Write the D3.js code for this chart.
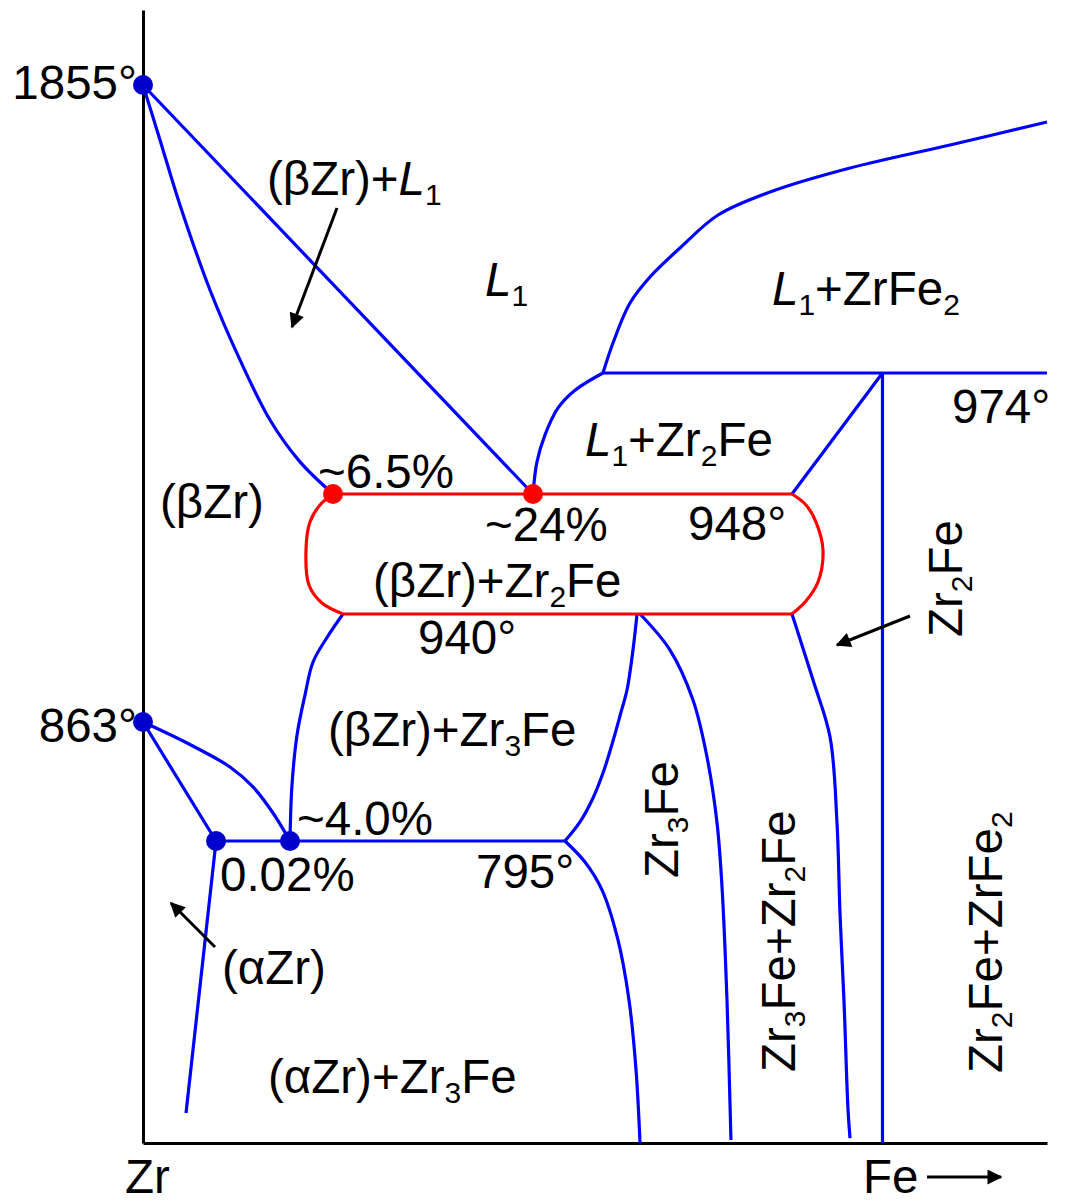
<!DOCTYPE html>
<html>
<head>
<meta charset="utf-8">
<script src="https://cdn.jsdelivr.net/npm/d3@7"></script>
<style>
  body { margin: 0; background: #fff; }
  svg text { font-family: "Liberation Sans", Arial, sans-serif; font-size: 47.5px; fill: #000; }
</style>
</head>
<body>
<script>
// Zr-Fe phase diagram, Zr rich side (schematic, not to scale)
// x = schematic composition (0 = Zr, 100 = right edge of frame)
// y = temperature in degC, the drawing stretches the isotherms so the scale is piecewise

const tempBreaks = [2085, 1855, 974, 948, 940, 863, 795, 600];

// blue phase boundaries
const liquidusBeta = [[0, 1855], [43.14, 948]];
const solidusBeta = [[0, 1855], [1.88, 1686.8], [4.09, 1488], [7.41, 1228], [10.73, 1014],
  [14.05, 963.9], [17.37, 954.9], [21.02, 948]];
const liquidusZr2Fe = [[43.14, 948], [43.58, 954.9], [44.47, 960.7], [45.91, 966.5],
  [47.79, 970.3], [50.88, 974]];
const liquidusZrFe2 = [[50.88, 974], [51.99, 1065.8], [53.87, 1188.1], [56.08, 1267.7],
  [59.4, 1356.4], [63.61, 1457.3], [69.36, 1527.7], [78.21, 1601.1], [89.27, 1671.5], [100, 1741.8]];
const peritectic974 = [[50.88, 974], [100, 974]];
const tieZr2Fe = [[71.79, 948], [81.8, 974]];
const zrFe2Line = [[81.8, 974], [81.8, 600]];
const betaSolvus = [[22.12, 940], [20.46, 924.3], [18.81, 905.8], [17.92, 882.2],
  [17.04, 855.6], [16.48, 827], [16.26, 795]];
const alphaBetaLeft = [[0, 863], [8.08, 795]];
const alphaBetaRight = [[0, 863], [4.87, 851], [9.62, 837.3], [12.17, 825.9], [14.38, 811], [16.26, 795]];
const eutectoid795 = [[8.08, 795], [46.68, 795]];
const zr3FeUpper = [[46.68, 795], [48.34, 805.9], [49.78, 819.6], [51.0, 835.6], [52.02, 852.7],
  [52.88, 870.1], [53.54, 885.8], [54.2, 914.3], [54.65, 940]];
const zr3FeLower = [[46.68, 795], [48.89, 781.4], [50.77, 763.4], [52.54, 731.1], [53.76, 692.3],
  [54.54, 647.1], [54.98, 600]];
const zr3FeRight = [[54.98, 940], [58.3, 914.3], [60.84, 878.7], [62.39, 843], [63.5, 805.3],
  [64.05, 765.3], [64.6, 692.3], [65.04, 601.9]];
const zr2FeLeft = [[71.79, 940], [74.12, 892.9], [76.0, 854.4], [76.77, 805.3], [77.1, 748.5],
  [77.54, 692.3], [77.99, 621.3], [78.21, 603.2]];
const alphaSolvus = [[8.08, 795], [4.76, 619.4]];

// red eutectic loop
const eutectic948 = [[21.02, 948], [71.79, 948]];
const eutectic940 = [[22.12, 940], [71.79, 940]];
const loopLeft = [[21.02, 948], [19.58, 947.27], [18.47, 946.13], [18.03, 944.27],
  [18.36, 941.93], [19.8, 940.73], [22.12, 940]];
const loopRight = [[71.79, 948], [73.34, 947.27], [74.45, 946.13], [75.22, 944.27],
  [74.67, 942.13], [73.34, 940.87], [71.79, 940]];

// invariant points
const bluePoints = [[0, 1855], [0, 863], [8.08, 795], [16.26, 795]];
const redPoints = [[21.02, 948], [43.14, 948]];

// text: *..* = italic, _x = subscript
const axisTemps = ['1855°', '863°'];
const labelTexts = ['(βZr)+*L*_1', '*L*_1', '*L*_1+ZrFe_2', '974°', '*L*_1+Zr_2Fe', '~6.5%',
  '(βZr)', '~24%', '948°', '(βZr)+Zr_2Fe', '940°', '(βZr)+Zr_3Fe', '~4.0%', '0.02%',
  '795°', '(αZr)', '(αZr)+Zr_3Fe', 'Zr', 'Fe'];
const rotatedTexts = ['Zr_2Fe', 'Zr_3Fe', 'Zr_3Fe+Zr_2Fe', 'Zr_2Fe+ZrFe_2'];

const W = 1067;
const H = 1203;

const x = d3.scaleLinear().domain([0, 100]).range([143, 1047]);
const y = d3.scaleLinear().domain(tempBreaks)
  .range([10, 85, 373, 494, 614, 722, 841, 1143]);

const svg = d3.select('body').append('svg')
  .attr('width', W)
  .attr('height', H);

svg.append('defs').append('marker')
  .attr('id', 'head')
  .attr('viewBox', '0 0 10 10')
  .attr('refX', 9)
  .attr('refY', 5)
  .attr('markerUnits', 'userSpaceOnUse')
  .attr('markerWidth', 19)
  .attr('markerHeight', 15)
  .attr('orient', 'auto')
  .append('path')
  .attr('d', 'M0,0L10,5L0,10z')
  .attr('fill', '#000');

// frame (axes without ticks)
svg.append('g')
  .attr('transform', `translate(${x(0)},0)`)
  .call(d3.axisLeft(y).tickValues([]).tickSizeOuter(0))
  .select('.domain').attr('stroke-width', 3);
svg.append('g')
  .attr('transform', `translate(0,${y(600)})`)
  .call(d3.axisBottom(x).tickValues([]).tickSizeOuter(0))
  .select('.domain').attr('stroke-width', 3);

const straight = d3.line().x(d => x(d[0])).y(d => y(d[1]));
const smooth = d3.line().x(d => x(d[0])).y(d => y(d[1])).curve(d3.curveCatmullRom.alpha(0.5));

const blueStraight = [liquidusBeta, peritectic974, tieZr2Fe, zrFe2Line, alphaBetaLeft, eutectoid795, alphaSolvus];
const blueCurves = [solidusBeta, liquidusZr2Fe, liquidusZrFe2, betaSolvus, alphaBetaRight,
  zr3FeUpper, zr3FeLower, zr3FeRight, zr2FeLeft];

svg.append('g').selectAll('path')
  .data(blueStraight)
  .join('path')
  .attr('d', straight)
  .attr('fill', 'none')
  .attr('stroke', '#0000ff')
  .attr('stroke-width', 3.2);

svg.append('g').selectAll('path')
  .data(blueCurves)
  .join('path')
  .attr('d', smooth)
  .attr('fill', 'none')
  .attr('stroke', '#0000ff')
  .attr('stroke-width', 3.2);

svg.append('g').selectAll('path')
  .data([eutectic948, eutectic940])
  .join('path')
  .attr('d', straight)
  .attr('fill', 'none')
  .attr('stroke', '#ff0000')
  .attr('stroke-width', 3.2);

svg.append('g').selectAll('path')
  .data([loopLeft, loopRight])
  .join('path')
  .attr('d', smooth)
  .attr('fill', 'none')
  .attr('stroke', '#ff0000')
  .attr('stroke-width', 3.2);

svg.append('g').selectAll('circle')
  .data(bluePoints)
  .join('circle')
  .attr('cx', d => x(d[0]))
  .attr('cy', d => y(d[1]))
  .attr('r', 10)
  .attr('fill', '#0000cc');

svg.append('g').selectAll('circle')
  .data(redPoints)
  .join('circle')
  .attr('cx', d => x(d[0]))
  .attr('cy', d => y(d[1]))
  .attr('r', 10)
  .attr('fill', '#ff0000');

// pointer arrows
const arrows = [
  [337, 208, 292, 327],
  [910, 616, 837, 645],
  [215, 947, 171, 903],
  [927, 1177, 1001, 1177],
];
svg.append('g').selectAll('line')
  .data(arrows)
  .join('line')
  .attr('x1', d => d[0])
  .attr('y1', d => d[1])
  .attr('x2', d => d[2])
  .attr('y2', d => d[3])
  .attr('stroke', '#000')
  .attr('stroke-width', 3)
  .attr('marker-end', 'url(#head)');

// split a label string into runs
function parseRuns(s) {
  const runs = [];
  let italic = false;
  for (let i = 0; i < s.length; i++) {
    const ch = s[i];
    if (ch === '*') { italic = !italic; continue; }
    if (ch === '_') { runs.push({ t: s[i + 1], it: false, sub: true }); i++; continue; }
    const last = runs[runs.length - 1];
    if (last && !last.sub && last.it === italic) last.t += ch;
    else runs.push({ t: ch, it: italic, sub: false });
  }
  return runs;
}

function addText(px, py, str, opts = {}) {
  const t = svg.append('text')
    .attr('transform', `translate(${px},${py})${opts.rot ? ' rotate(-90)' : ''}`)
    .attr('text-anchor', opts.anchor || 'start');
  let down = false;
  parseRuns(str).forEach((r) => {
    const ts = t.append('tspan').text(r.t);
    if (r.it) ts.style('font-style', 'italic');
    if (r.sub) {
      ts.style('font-size', '30px').attr('dy', down ? null : 10);
      down = true;
    } else if (down) {
      ts.attr('dy', -10);
      down = false;
    }
  });
}

// temperatures on the Zr side
addText(x(0) - 6, y(1855) + 14, axisTemps[0], { anchor: 'end' });
addText(x(0) - 6, y(863) + 20, axisTemps[1], { anchor: 'end' });

const labelPos = [
  [267, 195], [485, 296], [772, 305], [952, 423], [585, 456], [318, 488],
  [160, 518], [485, 541], [688, 540], [373, 597], [418, 654], [328, 746],
  [297, 835], [220, 891], [476, 888], [222, 984], [268, 1093], [125, 1193], [863, 1193],
];
labelTexts.forEach((s, i) => addText(labelPos[i][0], labelPos[i][1], s));

const rotPos = [[962, 637], [678, 878], [795, 1072], [1002, 1073]];
rotatedTexts.forEach((s, i) => addText(rotPos[i][0], rotPos[i][1], s, { rot: true }));
</script>
</body>
</html>
